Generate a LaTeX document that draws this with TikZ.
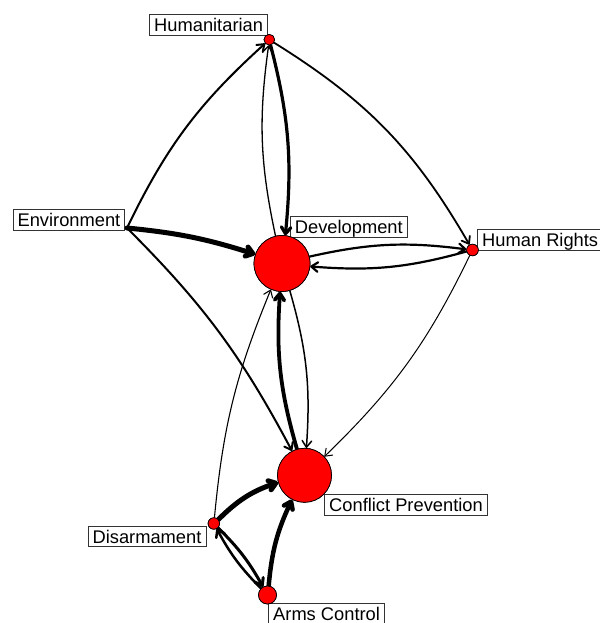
\documentclass[tikz,border=0pt]{standalone}
\usepackage{fontspec}
\setmainfont{Liberation Sans}
\usetikzlibrary{arrows.meta}
\begin{document}
\begin{tikzpicture}[x=1pt,y=1pt,
  vert/.style={circle,draw=black,line width=0.7pt,fill=red,inner sep=0pt,minimum size=#1},
  lab/.style={draw=black!80,line width=0.8pt,fill=white,anchor=north west,inner xsep=4.5pt,inner ysep=0pt,
    text height=17pt,text depth=3.6pt,font=\fontsize{18.3}{20}\selectfont},
  edge/.style={line width=#1,line cap=round,-{Straight Barb[length=6.5pt,width=9.5pt,round]}},
]
\useasboundingbox (0,0) rectangle (599,623);
% labels
\node[lab] (lHum) at (149.3,609) {Humanitarian};
\node[lab] (lEnv) at (12.7,414) {Environment};
\node[lab] (lDev) at (290,407) {Development};
\node[lab] (lHR) at (477.3,393.7) {Human Rights};
\node[lab] (lCP) at (324.3,129) {Conflict Prevention};
\node[lab] (lDis) at (87.7,97.3) {Disarmament};
\node[lab] (lAC) at (268.3,19.7) {Arms Control};
% vertices
\node[vert=10.6pt] (Hum) at (269.3,583.3) {};
\coordinate (Env) at (127,395);
\node[vert=56pt] (Dev) at (282,359.5) {};
\node[vert=11.6pt] (HR) at (472.5,373) {};
\node[vert=54pt] (CP) at (304.5,147.7) {};
\node[vert=11.4pt] (Dis) at (213.8,99.5) {};
\node[vert=18pt] (AC) at (267.5,28) {};
% edges
\draw[edge=2pt] (Env) to[bend left=11] (Hum);
\draw[edge=5pt] (Env) to[bend left=6] (Dev);
\draw[edge=2pt] (Env) to[bend left=8.5] (CP);
\draw[edge=1.8pt] (Hum) to[bend left=14] (HR);
\draw[edge=3.2pt] (Hum) to[bend left=10] (Dev);
\draw[edge=1.3pt] (Dev) to[bend left=10] (Hum);
\draw[edge=2.2pt] (Dev) to[bend left=10] (HR);
\draw[edge=2.2pt] (HR) to[bend left=10] (Dev);
\draw[edge=1pt] (HR) to[bend left=10] (CP);
\draw[edge=3.8pt] (CP) to[bend left=10] (Dev);
\draw[edge=1.5pt] (Dev) to[bend left=10] (CP);
\draw[edge=1.1pt] (Dis) to[bend left=8.5] (Dev);
\draw[edge=5pt] (Dis) to[bend left=13] (CP);
\draw[edge=4.5pt] (AC) to[bend left=10] (CP);
\draw[edge=3pt] (Dis) to[bend left=8] (AC);
\draw[edge=2.5pt] (AC) to[bend left=8] (Dis);
% redraw vertices on top
\node[vert=10.6pt] at (Hum) {};
\node[vert=56pt] at (Dev) {};
\node[vert=11.6pt] at (HR) {};
\node[vert=54pt] at (CP) {};
\node[vert=11.4pt] at (Dis) {};
\node[vert=18pt] at (AC) {};
\end{tikzpicture}
\end{document}
